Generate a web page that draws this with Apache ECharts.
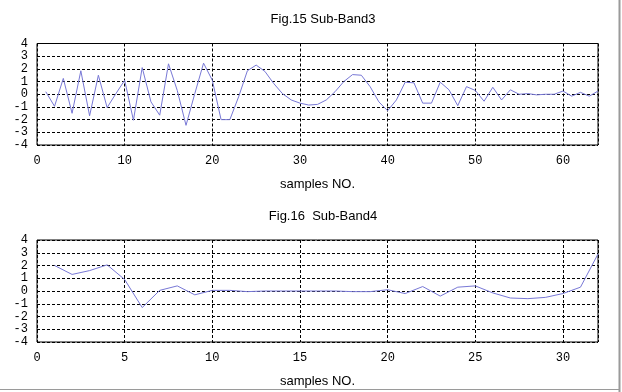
<!DOCTYPE html>
<html><head><meta charset="utf-8">
<script src="https://cdn.jsdelivr.net/npm/echarts@6/dist/echarts.min.js"></script>
<style>html,body{margin:0;padding:0;background:#fff}#c{width:622px;height:392px}</style>
</head><body><div id="c"></div>
<script>
const title1 = "Fig.15 Sub-Band3";
const title2 = "Fig.16  Sub-Band4";
const xName = "samples NO.";
const band3 = [0.2,-0.95,1.25,-1.5,1.85,-1.7,1.5,-1.05,0.05,1.1,
  -2.05,2.1,-0.6,-1.65,2.4,0.3,-2.45,0.05,2.45,1.1,
  -2.0,-2.0,-0.2,1.85,2.3,1.8,0.85,0.05,-0.45,-0.7,
  -0.85,-0.8,-0.45,0.2,1.0,1.55,1.5,0.6,-0.6,-1.3,
  -0.45,0.95,0.9,-0.7,-0.7,0.95,0.35,-0.9,0.6,0.3,
  -0.55,0.55,-0.45,0.35,0.0,0.05,-0.05,0.0,0.0,0.25,
  -0.15,0.15,-0.15,0.25];
const band4 = [2.0,1.3,1.6,2.05,0.9,-1.3,0.05,0.4,-0.3,0.05,
  0.05,-0.05,0.0,0.0,0.0,0.0,0.0,-0.05,-0.05,0.1,
  -0.2,0.35,-0.4,0.3,0.4,-0.15,-0.55,-0.6,-0.5,-0.2,
  0.3,2.9];
const yTicks = [-4,-3,-2,-1,0,1,2,3,4];

const pairs = arr => arr.map((v,i)=>[i+1,v]);
const mono = "'Liberation Mono','DejaVu Sans Mono',monospace";
const sans = "'Liberation Sans',Arial,sans-serif";
const dash = {type:[3,2], color:'#000', width:1};
function xAxis(idx, max, interval){
  return {gridIndex:idx, type:'value', min:0, max:max, interval:interval,
    name:xName, nameLocation:'middle', nameGap:33,
    nameTextStyle:{fontFamily:sans, fontSize:13, color:'#000'},
    axisLine:{show:false}, axisTick:{show:false},
    axisLabel:{fontFamily:mono, fontSize:12, color:'#000', margin:10, showMaxLabel:false},
    splitLine:{show:true, lineStyle:dash}};
}
function yAxis(idx){
  return {gridIndex:idx, type:'value', min:yTicks[0], max:yTicks[yTicks.length-1], interval:1,
    axisLine:{show:false}, axisTick:{show:false},
    axisLabel:{fontFamily:mono, fontSize:12, color:'#000', margin:9, lineHeight:12},
    splitLine:{show:true, lineStyle:dash}};
}
const chart = echarts.init(document.getElementById('c'), null, {renderer:'canvas'});
chart.setOption({
  animation:false,
  backgroundColor:'#fff',
  title:[
    {text:title1, left:318, top:7.5, textAlign:'center', textStyle:{fontFamily:sans, fontSize:13, fontWeight:'normal', color:'#000'}},
    {text:title2, left:318, top:204.5, textAlign:'center', textStyle:{fontFamily:sans, fontSize:13, fontWeight:'normal', color:'#000'}}
  ],
  grid:[
    {left:37, top:43.5, width:561, height:101.5, show:true, borderColor:'#000', borderWidth:1, backgroundColor:'transparent'},
    {left:37, top:240, width:561, height:102, show:true, borderColor:'#000', borderWidth:1, backgroundColor:'transparent'}
  ],
  xAxis:[xAxis(0,64,10), xAxis(1,32,5)],
  yAxis:[yAxis(0), yAxis(1)],
  series:[
    {type:'line', xAxisIndex:0, yAxisIndex:0, data:pairs(band3), showSymbol:false, lineStyle:{color:'#7878d6', width:1}},
    {type:'line', xAxisIndex:1, yAxisIndex:1, data:pairs(band4), showSymbol:false, lineStyle:{color:'#7878d6', width:1}}
  ],
  graphic:[
    {type:'line', shape:{x1:619.5,y1:0,x2:619.5,y2:392}, style:{stroke:'#9a9a9a', lineWidth:2}},
    {type:'line', shape:{x1:0,y1:389.5,x2:620,y2:389.5}, style:{stroke:'#9a9a9a', lineWidth:1}}
  ]
});
</script></body></html>
